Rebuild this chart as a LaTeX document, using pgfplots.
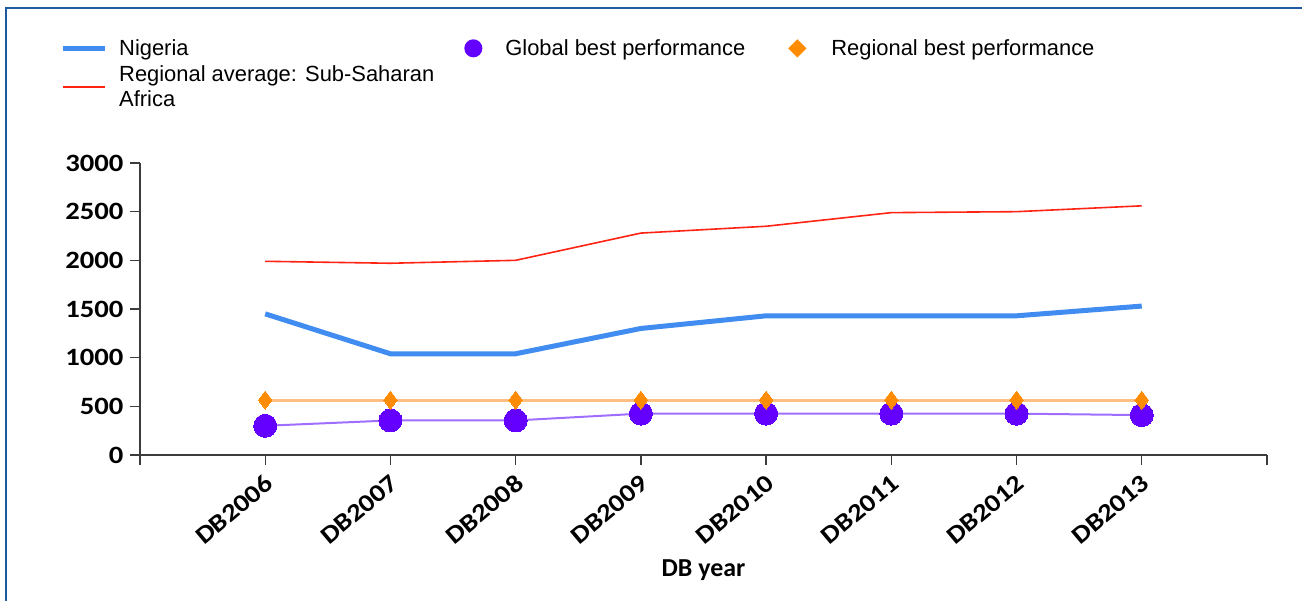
\documentclass[border=0pt]{standalone}
\usepackage{pgfplots}
\pgfplotsset{compat=1.18}
\usepackage{fontspec}
\setmainfont{Liberation Sans}
\newfontfamily\tickfont[FakeStretch=1.15]{Carlito}
\newfontfamily\labfont{Carlito}
\newfontfamily\legfont{Liberation Sans}
\definecolor{nigeria}{RGB}{65,140,240}
\definecolor{regavg}{RGB}{255,35,20}
\definecolor{globline}{RGB}{160,110,255}
\definecolor{globmark}{RGB}{100,0,255}
\definecolor{regline}{RGB}{255,190,130}
\definecolor{regmark}{RGB}{255,140,0}
\definecolor{frameblue}{RGB}{30,90,160}
\definecolor{axisgray}{RGB}{60,60,60}
\begin{document}
\begin{tikzpicture}
\path[use as bounding box] (-140bp,-146bp) rectangle (1162bp,455bp);
\begin{axis}[
  at={(0bp,0bp)}, anchor=south west,
  scale only axis, width=1127bp, height=292bp,
  xmin=-1, xmax=8, ymin=0, ymax=3000,
  xtick={-1,0,1,2,3,4,5,6,7,8},
  xticklabels={{},DB2006,DB2007,DB2008,DB2009,DB2010,DB2011,DB2012,DB2013,{}},
  ytick={0,500,1000,1500,2000,2500,3000},
  axis x line=bottom, axis y line=left,
  axis line style={-, color=axisgray, line width=1.4bp},
  tick style={color=axisgray, line width=1.4bp},
  tick align=outside, major tick length=10bp,
  /pgf/number format/assume math mode=true,
  /pgf/number format/1000 sep={},
  yticklabel style={font=\tickfont\bfseries\fontsize{25}{27}\selectfont, anchor=east, xshift=-3bp},
  xticklabel style={font=\tickfont\bfseries\fontsize{25}{27}\selectfont, rotate=40, anchor=east, xshift=-3bp, yshift=-14bp},
  xlabel={DB year},
  xlabel style={font=\labfont\bfseries\fontsize{26}{28}\selectfont, at={(axis description cs:0.5,-0.393)}, anchor=center},
  clip=false,
  legend columns=3,
  legend cell align=left,
  legend style={draw=none, fill=none, inner sep=0pt, at={(axis description cs:-0.071,1.43)}, anchor=north west,
    font=\legfont\fontsize{22}{25}\selectfont, cells={align=left},
    /tikz/every odd column/.append style={column sep=10bp},
    /tikz/column 2/.append style={column sep=19bp},
    /tikz/column 4/.append style={column sep=32bp}, row sep=5bp},
]
\addplot[color=nigeria, line width=5bp, legend image code/.code={\path[draw=none,fill=none] (0bp,-6bp) rectangle (42bp,6bp); \draw[color=nigeria, line width=5bp] (0bp,0bp) -- (42bp,0bp);}]
  coordinates {(0,1450) (1,1040) (2,1040) (3,1300) (4,1430) (5,1430) (6,1430) (7,1530)};
\addlegendentry{Nigeria}
\addplot[color=globline, line width=2bp, mark=*, mark size=11.5bp, mark options={fill=globmark, draw=globmark, line width=0pt},
  legend image code/.code={\path[draw=none,fill=none] (0bp,-6bp) rectangle (38bp,6bp); \fill[globmark] (18bp,0bp) circle[radius=8bp];}]
  coordinates {(0,300) (1,355) (2,355) (3,425) (4,425) (5,425) (6,425) (7,410)};
\addlegendentry{Global best performance}
\addplot[color=regline, line width=3bp, mark=diamond*, mark size=9bp, mark options={fill=regmark, draw=regmark, line width=0pt},
  legend image code/.code={\path[draw=none,fill=none] (0bp,-6bp) rectangle (40bp,6bp); \fill[regmark] (18bp,-7bp) -- (25bp,0bp) -- (18bp,7bp) -- (11bp,0bp) -- cycle;}]
  coordinates {(0,565) (1,565) (2,565) (3,565) (4,565) (5,565) (6,565) (7,565)};
\addlegendentry{Regional best performance}
\addplot[color=regavg, line width=1.6bp, legend image code/.code={\path[draw=none,fill=none] (0bp,-6bp) rectangle (42bp,6bp); \draw[color=regavg, line width=2.5bp] (0bp,0bp) -- (42bp,0bp);}]
  coordinates {(0,1990) (1,1970) (2,2000) (3,2280) (4,2350) (5,2490) (6,2500) (7,2560)};
\addlegendentry{Regional average: Sub-Saharan\\Africa}
\end{axis}
\draw[color=frameblue, line width=2.5bp] (-134bp,-150bp) -- (-134bp,447bp) -- (1170bp,447bp);
\end{tikzpicture}
\end{document}
